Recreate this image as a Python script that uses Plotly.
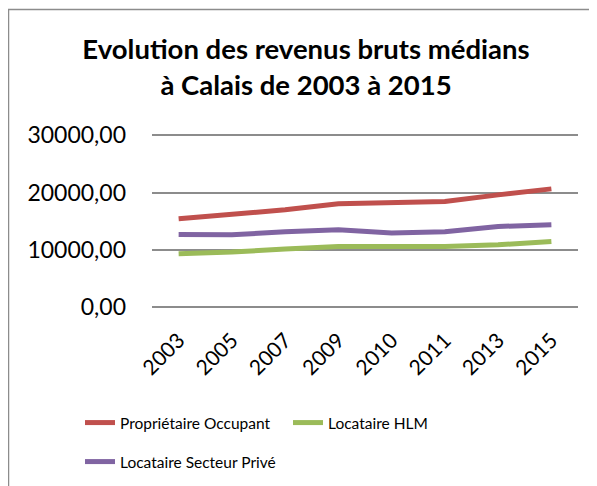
import plotly.graph_objects as go

years = ["2003", "2005", "2007", "2009", "2010", "2011", "2013", "2015"]
proprietaire = [15400, 16100, 16980, 18020, 18140, 18430, 19590, 20640]
hlm = [9300, 9590, 10120, 10580, 10580, 10580, 10870, 11450]
prive = [12670, 12620, 13140, 13490, 12910, 13140, 14070, 14360]
ytick_vals = [0, 10000, 20000, 30000]
ytick_text = ["0,00", "10000,00", "20000,00", "30000,00"]

# page body has an 8px margin, so figure coordinates = screen - 8
W, H = 589, 478
ML, MR, MT, MB = 144, 19, 125, 179
FONT = "Lato"

fig = go.Figure()
fig.add_trace(go.Scatter(x=years, y=proprietaire, mode="lines", name="Propriétaire Occupant",
                         line=dict(color="#C0504D", width=5), legend="legend"))
fig.add_trace(go.Scatter(x=years, y=hlm, mode="lines", name="Locataire HLM",
                         line=dict(color="#9BBB59", width=5), legend="legend"))
fig.add_trace(go.Scatter(x=years, y=prive, mode="lines", name="Locataire Secteur Privé",
                         line=dict(color="#8064A2", width=5), legend="legend2"))

pw = W - ML - MR
ph = H - MT - MB

def px_x(x):
    return (x - ML) / pw

def px_y(y):
    return (H - MB - y) / ph

fig.update_layout(
    width=W, height=H,
    margin=dict(l=ML, r=MR, t=MT, b=MB, autoexpand=False),
    paper_bgcolor="white", plot_bgcolor="white",
    font=dict(family=FONT, color="black"),
    title=dict(text="<b>Evolution des revenus bruts médians<br>à Calais de 2003 à 2015</b>",
               x=298 / W, xanchor="center", y=1 - 51 / H, yanchor="top",
               font=dict(size=27.5, family=FONT, color="black")),
    xaxis=dict(type="category", range=[-0.5, 7.5], showgrid=False, showline=False,
               tickangle=-45, tickfont=dict(size=21, family=FONT), ticks="",
               ticklabelstandoff=16),
    yaxis=dict(range=[0, 30400], tickvals=ytick_vals, ticktext=ytick_text,
               showgrid=True, gridcolor="#8c8c8c", gridwidth=1.5,
               zeroline=True, zerolinecolor="#8c8c8c", zerolinewidth=1.5,
               showline=False, tickfont=dict(size=23, family=FONT), ticklabelstandoff=25),
    legend=dict(orientation="h", x=px_x(72), xanchor="left", y=px_y(415), yanchor="middle",
                font=dict(size=15.5, family=FONT), entrywidth=163, entrywidthmode="pixels",
                bgcolor="rgba(0,0,0,0)"),
    legend2=dict(orientation="h", x=px_x(72), xanchor="left", y=px_y(454), yanchor="middle",
                 font=dict(size=15.5, family=FONT), bgcolor="rgba(0,0,0,0)"),
    shapes=[dict(type="rect", xref="paper", yref="paper",
                 x0=px_x(0.5), x1=px_x(W + 5), y0=px_y(H + 5), y1=px_y(1.5),
                 line=dict(color="#8c8c8c", width=1.5), fillcolor="rgba(0,0,0,0)", layer="below")],
)

fig.write_html("out.html")
